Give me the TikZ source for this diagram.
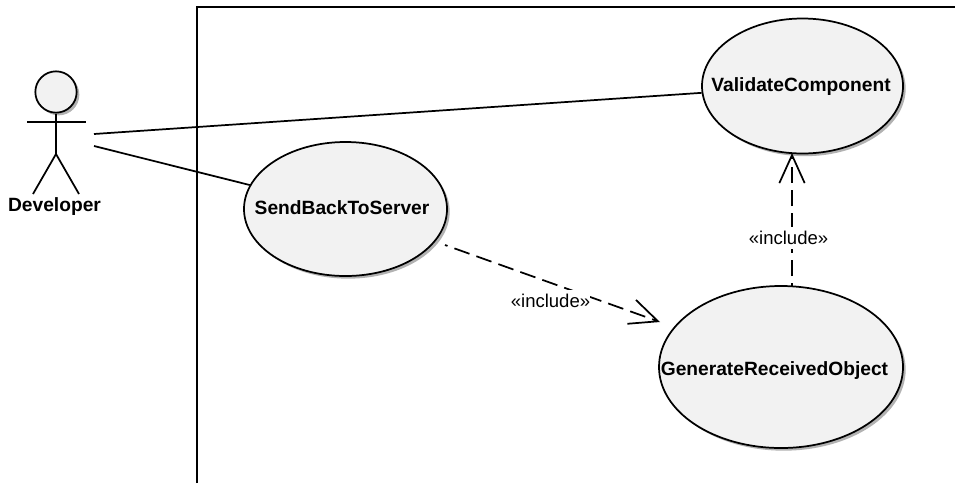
\documentclass[tikz,border=0pt]{standalone}
\usepackage{fontspec}
\setmainfont{Liberation Sans}
\usetikzlibrary{arrows.meta,shapes.geometric,shadows}
\newcommand{\uctext}[3]{\smash{\makebox[0pt]{\kern#1\raisebox{#2}{#3}}}}
\tikzset{
  x=0.75pt,y=-0.75pt,
  usecase/.style={ellipse,draw=black,line width=1.3pt,fill=black!5,inner sep=0pt,
    font=\bfseries\fontsize{14.4}{16}\selectfont,
    drop shadow={shadow xshift=2pt,shadow yshift=-2pt,fill=black!30,opacity=1}},
  stick/.style={line width=1.3pt,line cap=butt},
  assoc/.style={line width=1.3pt},
  incl/.style={line width=1.3pt,dash pattern=on 12pt off 5.5pt,dash phase=10pt,
    -{Straight Barb[length=21pt,width=19pt,line width=1.3pt]}},
  stereo/.style={fill=white,inner sep=0pt,minimum height=17pt,font=\fontsize{13.9}{16}\selectfont},
  actorlabel/.style={inner sep=0pt,font=\bfseries\fontsize{14.4}{16}\selectfont},
}
\begin{document}
\begin{tikzpicture}
\useasboundingbox (0,0) rectangle (955,483);
\fill[white] (0,0) rectangle (955,483);
\coordinate (frameA) at (197,483);
\coordinate (frameB) at (197,7);
\coordinate (frameC) at (955,7);
\draw[line width=1.3pt] (frameA) -- (frameB) -- (frameC);
% use cases
\node[usecase,minimum width=150.75pt,minimum height=101.25pt] (validate) at (802.5,86) {\uctext{-2.2pt}{-4.3pt}{ValidateComponent}};
\node[usecase,minimum width=152.25pt,minimum height=100.5pt] (send) at (345.5,209) {\uctext{-5.2pt}{-4.3pt}{SendBackToServer}};
\node[usecase,minimum width=183pt,minimum height=121.5pt] (generate) at (781,367) {\uctext{-9.8pt}{-6pt}{GenerateReceivedObject}};
% actor
\node[circle,draw=black,line width=1.3pt,fill=black!5,minimum size=31pt,inner sep=0pt,
  drop shadow={shadow xshift=2pt,shadow yshift=-2pt,fill=black!30,opacity=1}] (head) at (56,92) {};
\coordinate (hip) at (56,154);
\coordinate (armL) at (27,122);
\coordinate (armR) at (86,122);
\coordinate (footL) at (33,194);
\coordinate (footR) at (79,194);
\draw[stick] (head) -- (hip);
\draw[stick] (armL) -- (armR);
\draw[stick] (footL) -- (hip) -- (footR);
\node[actorlabel] (developer) at (54.5,207) {Developer};
% associations
\coordinate (devA) at (94,134);
\coordinate (devB) at (94,146);
\draw[assoc] (devA) -- (validate);
\draw[assoc] (devB) -- (send);
% includes
\coordinate (inclA) at (792,286);
\coordinate (inclB) at (792,153);
\coordinate (inclC) at (445,245);
\coordinate (inclD) at (660,322);
\draw[incl] (inclC) -- (inclD);
\draw[incl] (inclA) -- (inclB);
\node[stereo] (label1) at (550.5,301) {«include»};
\node[stereo] (label2) at (788.5,238) {«include»};
\end{tikzpicture}
\end{document}
